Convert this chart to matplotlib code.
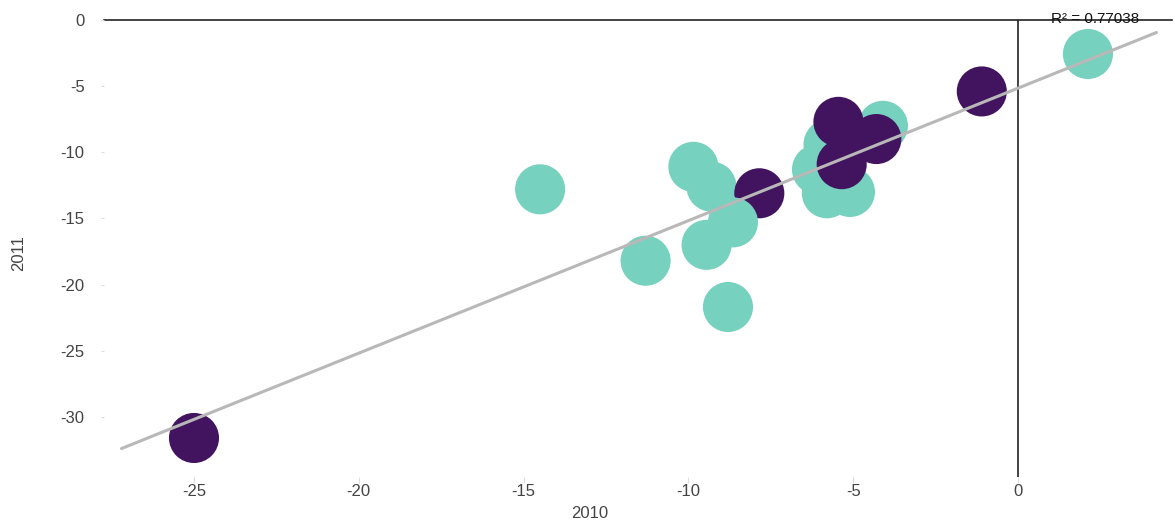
import numpy as np
import matplotlib
matplotlib.use("Agg")
import matplotlib.pyplot as plt

plt.rcParams['font.family'] = ['Liberation Sans', 'DejaVu Sans']

# Data (2010 vs 2011), drawn in this order
x2010 = [2.12, -14.5, -11.3, -8.8, -9.45, -9.85, -9.3, -7.85, -8.65,
         -4.1, -6.1, -5.75, -5.8, -5.1, -5.45, -4.3, -5.35, -1.1, -25.0]
y2011 = [-2.57, -12.8, -18.2, -21.7, -17.0, -11.1, -12.6, -13.1, -15.3,
         -8.0, -11.3, -9.4, -13.1, -13.0, -7.7, -9.0, -10.9, -5.4, -31.6]
group = [0, 0, 0, 0, 0, 0, 0, 1, 0,
         0, 0, 0, 0, 0, 1, 1, 1, 1, 1]
group_colors = ['#76d1be', '#42145f']
r2_label = "R\u00b2 = 0.77038"
xticks = [-25, -20, -15, -10, -5, 0]
yticks = [0, -5, -10, -15, -20, -25, -30]

fig = plt.figure(figsize=(11.75, 5.24), dpi=100)
ax = fig.add_axes([104/1175, 1-477/524, (1172-104)/1175, (477-20)/524])

x = np.array(x2010)
y = np.array(y2011)
cols = [group_colors[g] for g in group]
for xi, yi, c in zip(x, y, cols):
    ax.scatter([xi], [yi], s=1300, color=c, edgecolors='none', zorder=2)

# linear trend line
slope, intercept = np.polyfit(x, y, 1)
tx = np.array([-27.2, 4.2])
ax.plot(tx, slope*tx + intercept, color='#b8b8b8', lw=2.2, zorder=3,
        solid_capstyle='round')

ax.set_xlim(-27.73, 4.67)
ax.set_ylim(-34.55, 0)

for s in ax.spines.values():
    s.set_visible(False)
ax.axhline(0, color='#222222', lw=1.2, zorder=1, clip_on=False)
ax.axvline(0, color='#222222', lw=1.2, zorder=1)

ax.set_xticks(xticks)
ax.set_yticks(yticks)
ax.set_xticklabels([str(t) for t in xticks])
ax.set_yticklabels([str(t) for t in yticks])
ax.tick_params(axis='x', length=4, width=0.8, color='#dddddd', labelsize=12,
               labelcolor='#444444', pad=1)
ax.tick_params(axis='y', length=2, width=0.8, color='#dddddd', labelsize=12,
               labelcolor='#444444', pad=12)

ax.set_xlabel('2010', fontsize=12, color='#444444')
ax.set_ylabel('2011', fontsize=12, color='#444444')
ax.xaxis.set_label_coords(0.455, -0.064)
ax.yaxis.set_label_coords(-0.073, 0.49)

ax.text(2.34, 0.1, r2_label, ha='center', va='center', fontsize=11,
        color='#111111', zorder=5, clip_on=False)

fig.savefig('out.png', dpi=100)
